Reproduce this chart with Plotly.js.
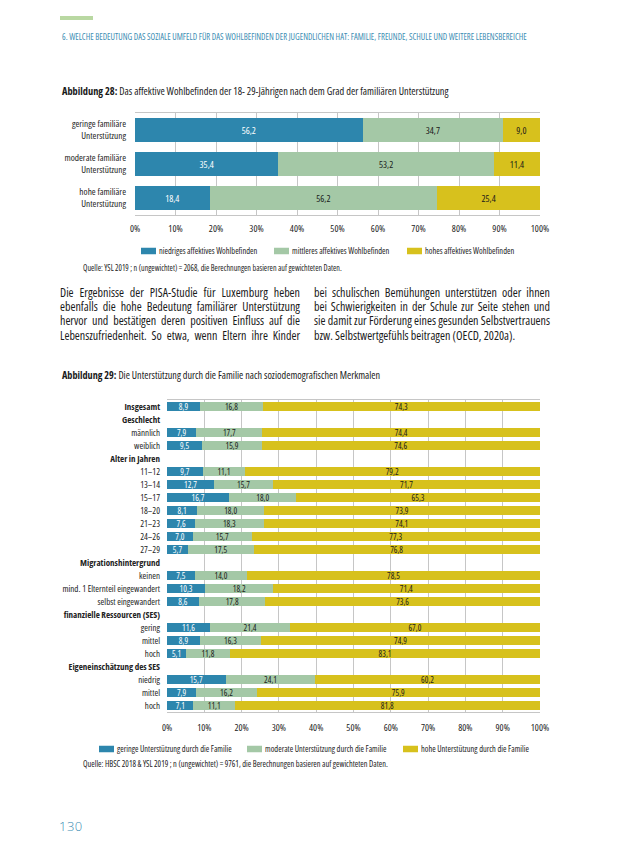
<!DOCTYPE html>
<html>
<head>
<meta charset="utf-8">
<script src="https://cdn.plot.ly/plotly-3.0.1.min.js"></script>
<style>
  html, body { margin:0; padding:0; background:#fff; }
  #page { position:relative; width:638px; height:862px; overflow:hidden; }
  #chart { position:absolute; left:0; top:0; width:638px; height:862px; }
  svg text { font-stretch: 75%; }
  .col { position:absolute; top:286px; font-family:'Open Sans',sans-serif; font-stretch:82%; font-size:12px; line-height:14.2px; color:#1a1a1a; }
  .col div { text-align:justify; text-align-last:justify; white-space:nowrap; }
  .col div.last { text-align-last:left; }
  #pnum { position:absolute; left:59px; top:817px; font-family:'Open Sans',sans-serif; font-weight:300; font-size:13px; color:#3b8db3; letter-spacing:0.5px; }
</style>
</head>
<body>
<div id="page">
  <div id="chart"></div>
  <div class="col" style="left:60px;width:240px;">
    <div>Die Ergebnisse der PISA-Studie für Luxemburg heben</div>
    <div>ebenfalls die hohe Bedeutung familiärer Unterstützung</div>
    <div>hervor und bestätigen deren positiven Einfluss auf die</div>
    <div>Lebenszufriedenheit. So etwa, wenn Eltern ihre Kinder</div>
  </div>
  <div class="col" style="left:314px;width:236px;">
    <div>bei schulischen Bemühungen unterstützen oder ihnen</div>
    <div>bei Schwierigkeiten in der Schule zur Seite stehen und</div>
    <div>sie damit zur Förderung eines gesunden Selbstvertrauens</div>
    <div class="last">bzw. Selbstwertgefühls beitragen (OECD, 2020a).</div>
  </div>
  <div id="pnum">130</div>
</div>
<script>
// ---------- DATA ----------
const cats1 = ['geringe familiäre<br>Unterstützung', 'moderate familiäre<br>Unterstützung', 'hohe familiäre<br>Unterstützung'];
const low1  = [56.2, 35.4, 18.4];
const mid1  = [34.7, 53.2, 56.2];
const high1 = [9.0, 11.4, 25.4];
const series1 = ['niedriges affektives Wohlbefinden', 'mittleres affektives Wohlbefinden', 'hohes affektives Wohlbefinden'];

const labels2 = ['Insgesamt', 'Geschlecht', 'männlich', 'weiblich', 'Alter in Jahren',
  '11–12', '13–14', '15–17', '18–20', '21–23', '24–26', '27–29',
  'Migrationshintergrund', 'keinen', 'mind. 1 Elternteil eingewandert', 'selbst eingewandert',
  'finanzielle Ressourcen (SES)', 'gering', 'mittel', 'hoch',
  'Eigeneinschätzung des SES', 'niedrig', 'mittel', 'hoch'];
const bold2 = [true, true, false, false, true, false, false, false, false, false, false, false,
  true, false, false, false, true, false, false, false, true, false, false, false];
const low2  = [8.9, null, 7.9, 9.5, null, 9.7, 12.7, 16.7, 8.1, 7.6, 7.0, 5.7, null, 7.5, 10.3, 8.6, null, 11.6, 8.9, 5.1, null, 15.7, 7.9, 7.1];
const mid2  = [16.8, null, 17.7, 15.9, null, 11.1, 15.7, 18.0, 18.0, 18.3, 15.7, 17.5, null, 14.0, 18.2, 17.8, null, 21.4, 16.3, 11.8, null, 24.1, 16.2, 11.1];
const high2 = [74.3, null, 74.4, 74.6, null, 79.2, 71.7, 65.3, 73.9, 74.1, 77.3, 76.8, null, 78.5, 71.4, 73.6, null, 67.0, 74.9, 83.1, null, 60.2, 75.9, 81.8];
const series2 = ['geringe Unterstützung durch die Familie', 'moderate Unterstützung durch die Familie', 'hohe Unterstützung durch die Familie'];

const xTicks = [0, 10, 20, 30, 40, 50, 60, 70, 80, 90, 100];
const xTickText = xTicks.map(v => v + '%');

// ---------- STYLE ----------
const W = 638, H = 862;
const px = v => v / W;
const py = v => 1 - v / H;
const FONT = "'Open Sans',sans-serif";
const COLORS = ['#2d86ad', '#a4c8a6', '#d7c11d'];
const TXT = ['#ffffff', '#1a1a1a', '#1a1a1a'];
const GRID = '#c6c6c6';
const TEAL = '#3b8db3';

const idx2 = labels2.map((_, i) => i);
const ticktext2 = labels2.map((l, i) => bold2[i] ? '<b>' + l + '</b>' : l);

const traces = [];
[low1, mid1, high1].forEach((vals, k) => {
  traces.push({
    type: 'bar', orientation: 'h', x: vals, y: cats1, name: series1[k],
    xaxis: 'x', yaxis: 'y', legend: 'legend', legendwidth: [88, 88, 110][k],
    marker: { color: COLORS[k], line: { width: 0 } },
    width: 0.72,
    texttemplate: '%{x:.1f}', textposition: 'inside', insidetextanchor: 'middle',
    textangle: 0, constraintext: 'none',
    textfont: { family: FONT, size: 9.5, color: TXT[k] },
    hoverinfo: 'x+y'
  });
});
[low2, mid2, high2].forEach((vals, k) => {
  traces.push({
    type: 'bar', orientation: 'h', x: vals, y: idx2, name: series2[k],
    xaxis: 'x2', yaxis: 'y2', legend: 'legend2', legendwidth: [103, 111, 130][k],
    marker: { color: COLORS[k], line: { width: 0 } },
    width: 0.7,
    texttemplate: '%{x:.1f}', textposition: 'inside', insidetextanchor: 'middle',
    textangle: 0, constraintext: 'none',
    textfont: { family: FONT, size: 8.6, color: TXT[k] },
    hoverinfo: 'x+y'
  });
});

const xaxisCommon = {
  range: [0, 100], tickmode: 'array', tickvals: xTicks, ticktext: xTickText,
  showgrid: true, gridcolor: GRID, gridwidth: 1,
  zeroline: false, showline: true, linecolor: GRID, linewidth: 1, mirror: true, ticks: '',
  tickfont: { family: FONT, size: 9.5, color: '#222' }, fixedrange: true
};

const annotations = [
  { text: '6. WELCHE BEDEUTUNG DAS SOZIALE UMFELD FÜR DAS WOHLBEFINDEN DER JUGENDLICHEN HAT: FAMILIE, FREUNDE, SCHULE UND WEITERE LEBENSBEREICHE',
    x: px(60), y: py(37), font: { family: FONT, size: 8.6, color: TEAL } },
  { text: '<b>Abbildung 28:</b> Das affektive Wohlbefinden der 18- 29-Jährigen nach dem Grad der familiären Unterstützung',
    x: px(60), y: py(91), font: { family: FONT, size: 10.35, color: '#1a1a1a' } },
  { text: 'Quelle: YSL 2019 ; n (ungewichtet) = 2068, die Berechnungen basieren auf gewichteten Daten.',
    x: px(81), y: py(268), font: { family: FONT, size: 8.05, color: '#1a1a1a' } },
  { text: '<b>Abbildung 29:</b> Die Unterstützung durch die Familie nach soziodemografischen Merkmalen',
    x: px(60), y: py(375), font: { family: FONT, size: 10.2, color: '#1a1a1a' } },
  { text: 'Quelle: HBSC 2018 & YSL 2019 ; n (ungewichtet) = 9761, die Berechnungen basieren auf gewichteten Daten.',
    x: px(81), y: py(763), font: { family: FONT, size: 8.3, color: '#1a1a1a' } }
].map(a => Object.assign({ xref: 'paper', yref: 'paper', xanchor: 'left', yanchor: 'middle', showarrow: false }, a));

const layout = {
  width: W, height: H, margin: { l: 0, r: 0, t: 0, b: 0 },
  paper_bgcolor: 'rgba(0,0,0,0)', plot_bgcolor: '#fff',
  separators: ',.', barmode: 'stack', showlegend: true,
  font: { family: FONT, color: '#1a1a1a' },
  xaxis: Object.assign({}, xaxisCommon, { domain: [px(135), px(540)], anchor: 'y', ticklabelstandoff: 5 }),
  yaxis: { domain: [py(215), py(113)], anchor: 'x', type: 'category', autorange: 'reversed',
    showgrid: false, zeroline: false, showline: false, ticks: '', ticklabelstandoff: 8,
    tickfont: { family: FONT, size: 9.3, color: '#222' }, fixedrange: true },
  xaxis2: Object.assign({}, xaxisCommon, { domain: [px(167), px(540)], anchor: 'y2', ticklabelstandoff: 7 }),
  yaxis2: { domain: [py(712), py(400)], anchor: 'x2', range: [23.5, -0.5], tickmode: 'array', tickvals: idx2, ticktext: ticktext2,
    showgrid: false, zeroline: false, showline: false, ticks: '', ticklabelstandoff: 6,
    tickfont: { family: FONT, size: 9, color: '#222' }, fixedrange: true },
  legend: { orientation: 'h', x: px(119), xanchor: 'left', y: py(251), yanchor: 'middle',
    font: { family: FONT, size: 8.4, color: '#222' }, itemwidth: 30, traceorder: 'normal', bgcolor: 'rgba(0,0,0,0)' },
  legend2: { orientation: 'h', x: px(77), xanchor: 'left', y: py(749), yanchor: 'middle',
    font: { family: FONT, size: 8.4, color: '#222' }, itemwidth: 30, traceorder: 'normal', bgcolor: 'rgba(0,0,0,0)' },
  shapes: [
    { type: 'rect', xref: 'paper', yref: 'paper', x0: px(60), x1: px(93), y0: py(20), y1: py(16),
      fillcolor: '#b9d8a2', line: { width: 0 } }
  ],
  annotations: annotations
};

// reshape legend swatches into flat rectangles placed right before their legend text
function flattenSwatches(gd) {
  gd.querySelectorAll('g.traces').forEach(g => {
    try {
      const t = g.querySelector('text.legendtext') || g.querySelector('text');
      if (!t) return;
      const tx = parseFloat(t.getAttribute('x')) || 40;
      const gm = g.getCTM();
      g.querySelectorAll('path').forEach(p => {
        if (p.getAttribute('data-flat') === '1') return;
        const pm = p.getCTM();
        if (!pm || !gm) return;
        const off = pm.e - gm.e;
        const x0 = tx - 18 - off, x1 = tx - 3 - off;
        p.setAttribute('d', 'M' + x0 + ',-3.3H' + x1 + 'V3.3H' + x0 + 'Z');
        p.setAttribute('data-flat', '1');
      });
    } catch (e) { /* keep default swatch */ }
  });
}

Plotly.newPlot('chart', traces, layout, { displayModeBar: false, staticPlot: true }).then(gd => {
  flattenSwatches(gd);
  gd.on('plotly_afterplot', () => flattenSwatches(gd));
  const obs = new MutationObserver(() => flattenSwatches(gd));
  obs.observe(gd, { childList: true, subtree: true });
  setTimeout(() => flattenSwatches(gd), 30);
  setTimeout(() => flattenSwatches(gd), 200);
});
</script>
</body>
</html>
